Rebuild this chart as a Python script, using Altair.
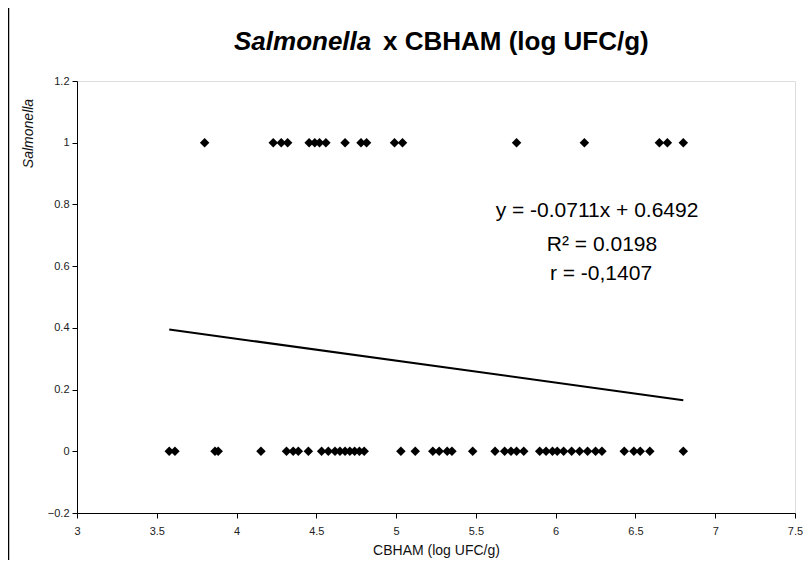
import altair as alt
import pandas as pd

# --- data ---
x_positive = [3.80, 4.23, 4.28, 4.32, 4.455, 4.49, 4.52, 4.56, 4.68, 4.78, 4.815,
              4.99, 5.04, 5.755, 6.18, 6.65, 6.70, 6.80]
x_negative = [3.578, 3.614, 3.865, 3.885, 4.153, 4.313, 4.355, 4.387, 4.45, 4.533,
              4.575, 4.617, 4.648, 4.68, 4.71, 4.74, 4.77, 4.80, 5.03, 5.12, 5.23,
              5.27, 5.32, 5.35, 5.48, 5.62, 5.68, 5.72, 5.755, 5.80, 5.90, 5.94,
              5.98, 6.01, 6.05, 6.10, 6.15, 6.20, 6.25, 6.29, 6.43, 6.49, 6.53,
              6.59, 6.80]
slope = -0.0711
intercept = 0.6492
equation_lines = ["y = -0.0711x + 0.6492", "R² = 0.0198", "r = -0,1407"]
title_italic = "Salmonella"
title_rest = "x CBHAM (log UFC/g)"
x_title = "CBHAM (log UFC/g)"
y_title = "Salmonella"
x_ticks = [3, 3.5, 4, 4.5, 5, 5.5, 6, 6.5, 7, 7.5]
y_ticks = [-0.2, 0, 0.2, 0.4, 0.6, 0.8, 1, 1.2]

points = pd.DataFrame({
    "x": x_positive + x_negative,
    "y": [1] * len(x_positive) + [0] * len(x_negative),
})
xs = [min(points["x"]), max(points["x"])]
trend = pd.DataFrame({"x": xs, "y": [slope * v + intercept for v in xs]})

FONT = "Liberation Sans"

xscale = alt.Scale(domain=[3, 7.5], nice=False, zero=False)
yscale = alt.Scale(domain=[-0.2, 1.2], nice=False, zero=False)

xaxis = alt.Axis(values=x_ticks, format="~g", title=x_title, grid=False, tickSize=5,
                 labelPadding=7, labelFontSize=11, labelColor="#222",
                 labelFont=FONT, titleFont=FONT, titleFontSize=14,
                 titleFontWeight="normal", titleColor="#111",
                 titleY=37, titleBaseline="middle",
                 domainColor="black", tickColor="black", labelFlush=False)
yaxis = alt.Axis(values=y_ticks, format="~g", title=y_title, grid=False, tickSize=5,
                 labelPadding=3, labelFontSize=11, labelColor="#222",
                 labelFont=FONT, titleFont=FONT, titleFontSize=14,
                 titleFontWeight="normal", titleFontStyle="italic",
                 titleColor="#111", titleX=-49, titleY=52, titleAngle=270,
                 titleAlign="center", titleBaseline="middle",
                 domainColor="black", tickColor="black", labelFlush=False)

scatter = alt.Chart(points).mark_point(
    shape="diamond", filled=True, color="black", size=90, opacity=1
).encode(
    x=alt.X("x:Q", scale=xscale, axis=xaxis),
    y=alt.Y("y:Q", scale=yscale, axis=yaxis),
)

line = alt.Chart(trend).mark_line(color="black", strokeWidth=2).encode(
    x=alt.X("x:Q", scale=xscale),
    y=alt.Y("y:Q", scale=yscale),
)

title_a = alt.Chart(pd.DataFrame({"t": [title_italic]})).mark_text(
    font=FONT, fontSize=26, fontWeight="bold", fontStyle="italic",
    align="left", baseline="middle", color="black"
).encode(x=alt.value(157), y=alt.value(-39), text="t:N")

title_b = alt.Chart(pd.DataFrame({"t": [title_rest]})).mark_text(
    font=FONT, fontSize=26, fontWeight="bold",
    align="left", baseline="middle", color="black"
).encode(x=alt.value(306), y=alt.value(-39), text="t:N")

eq = pd.DataFrame({"t": equation_lines})
eq1 = alt.Chart(eq.iloc[[0]]).mark_text(
    font=FONT, fontSize=21, align="center", baseline="middle", color="black"
).encode(x=alt.value(520), y=alt.value(130), text="t:N")
eq2 = alt.Chart(eq.iloc[[1]]).mark_text(
    font=FONT, fontSize=21, align="center", baseline="middle", color="black"
).encode(x=alt.value(525), y=alt.value(164), text="t:N")
eq3 = alt.Chart(eq.iloc[[2]]).mark_text(
    font=FONT, fontSize=21, align="center", baseline="middle", color="black"
).encode(x=alt.value(524), y=alt.value(193), text="t:N")

frame = alt.Chart(pd.DataFrame({"k": [0]})).mark_rule(
    color="black", strokeWidth=1.5
).encode(x=alt.value(-68.5), y=alt.value(-73), y2=alt.value(487))

chart = alt.layer(scatter, line, title_a, title_b, eq1, eq2, eq3, frame).properties(
    width=718, height=432,
    autosize=alt.AutoSizeParams(type="none"),
    padding={"left": 69, "top": 73, "right": 8, "bottom": 47},
).configure_view(stroke="#888", strokeWidth=2).configure(background="white")

chart.save("out.html", embed_options={"renderer": "svg", "actions": False})
